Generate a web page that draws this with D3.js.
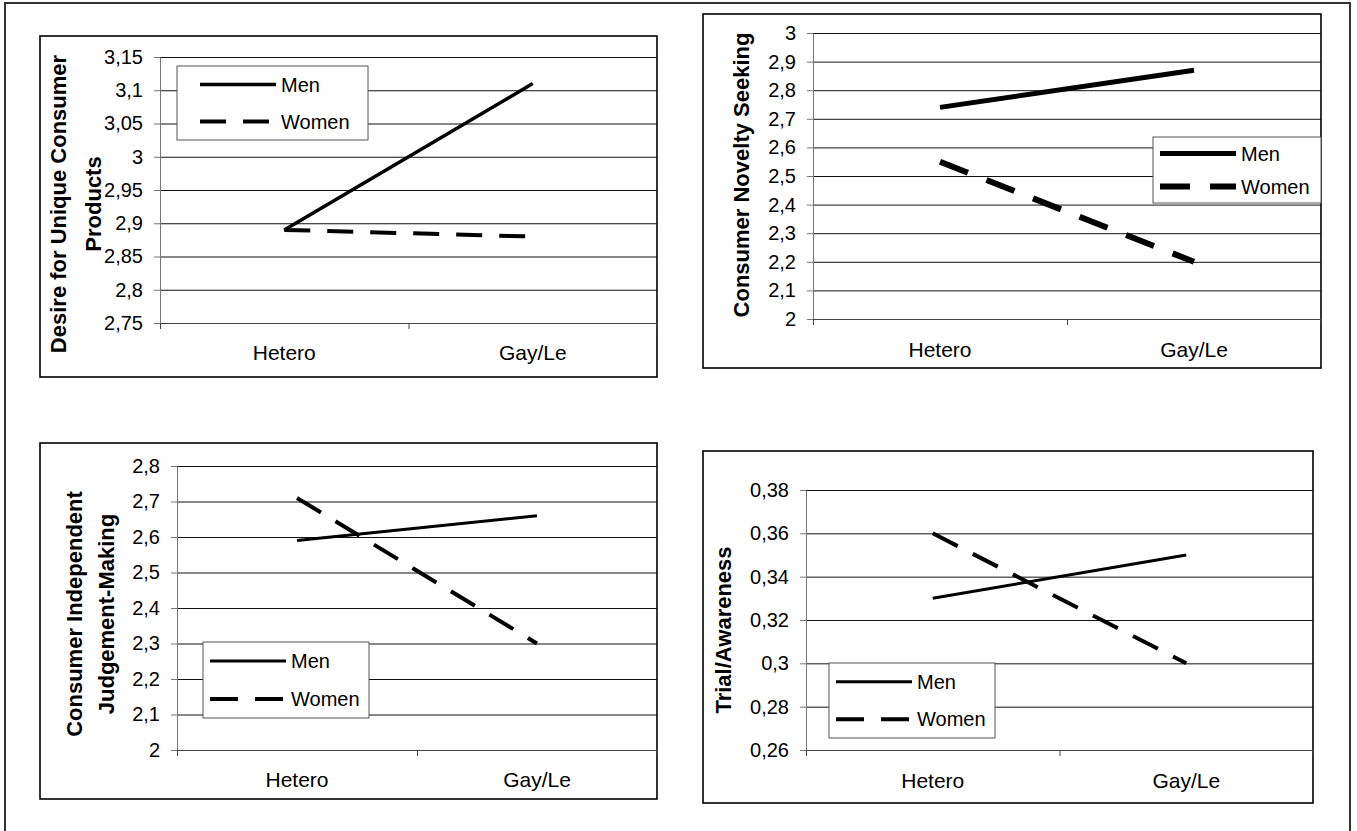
<!DOCTYPE html>
<html lang="en">
<head>
<meta charset="UTF-8">
<title>Consumer measures by gender and orientation</title>
<script src="https://d3js.org/d3.v7.min.js"></script>
<style>
    body {
        margin: 0;
        background: #fff;
    }
    svg {
        display: block;
        font-family: "Liberation Sans", Arial, sans-serif;
    }
</style>
</head>
<body>
<svg id="chart" width="1357" height="831"></svg>
<script>
    // Shared categories and series
    const categories = ["Hetero", "Gay/Le"];
    const seriesNames = ["Men", "Women"];

    // Panel 1: desire for unique consumer products
    const uniqueTitle = ["Desire for Unique Consumer", "Products"];
    const uniqueTicks = [2.75, 2.8, 2.85, 2.9, 2.95, 3, 3.05, 3.1, 3.15];
    const uniqueMen = [2.89, 3.11];
    const uniqueWomen = [2.89, 2.88];

    // Panel 2: consumer novelty seeking
    const noveltyTitle = ["Consumer Novelty Seeking"];
    const noveltyTicks = [2, 2.1, 2.2, 2.3, 2.4, 2.5, 2.6, 2.7, 2.8, 2.9, 3];
    const noveltyMen = [2.74, 2.87];
    const noveltyWomen = [2.55, 2.2];

    // Panel 3: consumer independent judgement-making
    const judgeTitle = ["Consumer Independent", "Judgement-Making"];
    const judgeTicks = [2, 2.1, 2.2, 2.3, 2.4, 2.5, 2.6, 2.7, 2.8];
    const judgeMen = [2.59, 2.66];
    const judgeWomen = [2.71, 2.3];

    // Panel 4: trial / awareness
    const trialTitle = ["Trial/Awareness"];
    const trialTicks = [0.26, 0.28, 0.3, 0.32, 0.34, 0.36, 0.38];
    const trialMen = [0.33, 0.35];
    const trialWomen = [0.36, 0.3];

    // comma as decimal separator
    const fmt = d3.formatLocale({ decimal: ",", thousands: ".", grouping: [3], currency: ["", ""] }).format("~g");

    const svg = d3.select("#chart");

    // outer frame (open at the bottom)
    svg.append("path")
        .attr("d", "M5,840 V3 H1350 V840")
        .attr("fill", "none")
        .attr("stroke", "#333")
        .attr("stroke-width", 2);

    const panels = [
        { title: uniqueTitle, ticks: uniqueTicks, values: [uniqueMen, uniqueWomen],
          box: [40, 36, 657, 377], plot: [160, 57, 657, 323], titleX: [58, 93], titleY: 204, labelY: 353,
          legend: [177, 66, 368, 140], legendPad: 23, menW: 3.5, womenW: 4, dash: "26,17" },
        { title: noveltyTitle, ticks: noveltyTicks, values: [noveltyMen, noveltyWomen],
          box: [703, 14, 1321, 368], plot: [813, 33, 1321, 319], titleX: [741], titleY: 175, labelY: 350,
          legend: [1153, 137, 1321, 203], legendPad: 7, menW: 5, womenW: 6, dash: "30,20" },
        { title: judgeTitle, ticks: judgeTicks, values: [judgeMen, judgeWomen],
          box: [40, 443, 657, 799], plot: [177, 466, 657, 750], titleX: [74, 106], titleY: 614, labelY: 780,
          legend: [203, 642, 369, 718], legendPad: 7, menW: 3, womenW: 4, dash: "28,17" },
        { title: trialTitle, ticks: trialTicks, values: [trialMen, trialWomen],
          box: [703, 451, 1313, 803], plot: [806, 490, 1313, 750], titleX: [723], titleY: 630, labelY: 781,
          legend: [829, 663, 995, 738], legendPad: 7, menW: 3, womenW: 4, dash: "28,17" }
    ];

    panels.forEach(drawPanel);

    function drawPanel(p) {
        const g = svg.append("g");
        const [x0, y0, x1, y1] = p.plot;

        // panel frame
        g.append("rect")
            .attr("x", p.box[0]).attr("y", p.box[1])
            .attr("width", p.box[2] - p.box[0]).attr("height", p.box[3] - p.box[1])
            .attr("fill", "#fff").attr("stroke", "#000").attr("stroke-width", 1.6);

        const y = d3.scaleLinear().domain(d3.extent(p.ticks)).range([y1, y0]);
        const x = d3.scalePoint().domain(categories).range([x0, x1]).padding(0.5);
        const xEdge = d3.scaleLinear().domain([0, categories.length]).range([x0, x1]);

        // horizontal gridlines
        g.append("g")
            .attr("transform", `translate(${x0},0)`)
            .call(d3.axisLeft(y).tickValues(p.ticks).tickSize(-(x1 - x0)).tickFormat(""))
            .call(a => a.select(".domain").remove())
            .selectAll("line").attr("stroke", "#111").attr("stroke-width", 1);

        // y axis with labels
        const yAxis = g.append("g")
            .attr("transform", `translate(${x0},0)`)
            .call(d3.axisLeft(y).tickValues(p.ticks).tickSize(6).tickSizeOuter(0).tickPadding(11).tickFormat(fmt));
        yAxis.select(".domain").attr("stroke", "#777");
        yAxis.selectAll("line").attr("stroke", "#777");
        yAxis.selectAll("text").attr("font-size", 20).attr("fill", "#000");

        // x axis, ticks between categories
        const xAxis = g.append("g")
            .attr("transform", `translate(0,${y1})`)
            .call(d3.axisBottom(xEdge).tickValues(d3.range(categories.length + 1)).tickSize(6).tickSizeOuter(0).tickFormat(""));
        xAxis.select(".domain").attr("stroke", "#444");
        xAxis.selectAll("line").attr("stroke", "#444");

        g.selectAll(".cat")
            .data(categories)
            .enter().append("text")
            .attr("x", d => x(d))
            .attr("y", p.labelY)
            .attr("dy", "0.35em")
            .attr("text-anchor", "middle")
            .attr("font-size", 21)
            .text(d => d);

        // axis title (rotated)
        p.title.forEach((t, i) => {
            g.append("text")
                .attr("transform", `translate(${p.titleX[i]},${p.titleY}) rotate(-90)`)
                .attr("dy", "0.35em")
                .attr("text-anchor", "middle")
                .attr("font-size", 22)
                .attr("font-weight", "bold")
                .text(t);
        });

        // series lines
        const line = d3.line()
            .x((d, i) => x(categories[i]))
            .y(d => y(d));

        g.append("path")
            .datum(p.values[0])
            .attr("d", line)
            .attr("fill", "none")
            .attr("stroke", "#000")
            .attr("stroke-width", p.menW);

        g.append("path")
            .datum(p.values[1])
            .attr("d", line)
            .attr("fill", "none")
            .attr("stroke", "#000")
            .attr("stroke-width", p.womenW)
            .attr("stroke-dasharray", p.dash);

        // legend
        const [lx0, ly0, lx1, ly1] = p.legend;
        const lg = g.append("g");
        lg.append("rect")
            .attr("x", lx0).attr("y", ly0)
            .attr("width", lx1 - lx0).attr("height", ly1 - ly0)
            .attr("fill", "#fff").attr("stroke", "#555").attr("stroke-width", 1);

        const rowH = (ly1 - ly0) / 2;
        seriesNames.forEach((name, i) => {
            const ry = ly0 + rowH * (i + 0.5);
            const sx = lx0 + p.legendPad;
            lg.append("line")
                .attr("x1", sx).attr("x2", sx + 76)
                .attr("y1", ry).attr("y2", ry)
                .attr("stroke", "#000")
                .attr("stroke-width", i === 0 ? p.menW : p.womenW)
                .attr("stroke-dasharray", i === 0 ? null : p.dash);
            lg.append("text")
                .attr("x", sx + 81).attr("y", ry)
                .attr("dy", "0.35em")
                .attr("font-size", 20)
                .text(name);
        });
    }
</script>
</body>
</html>
